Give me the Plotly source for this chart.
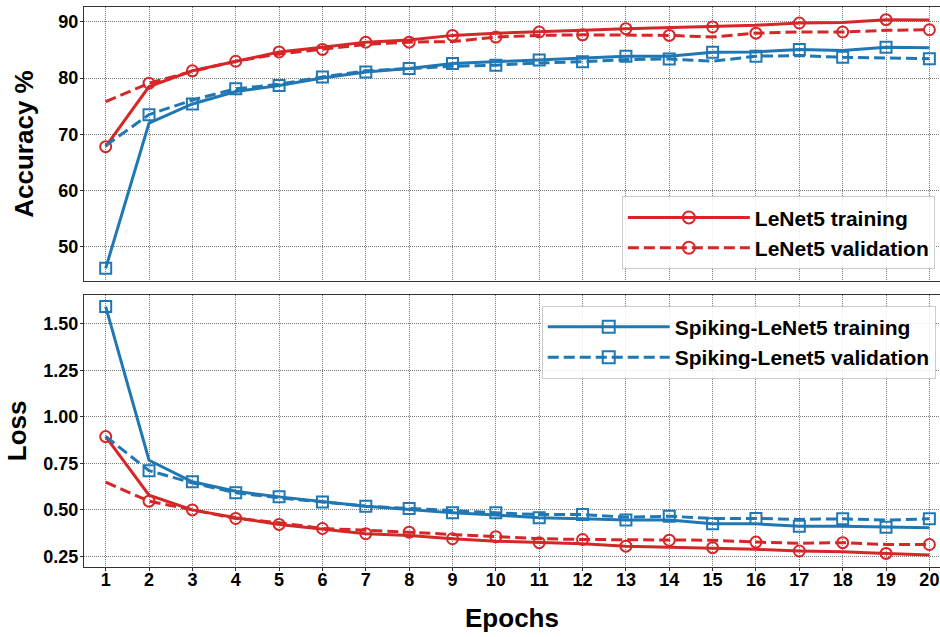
import plotly.graph_objects as go

epochs = list(range(1, 21))

lenet_train_acc = [67.8, 78.5, 81.3, 83.0, 84.65, 85.5, 86.4, 86.8, 87.6, 88.0,
                   88.2, 88.5, 88.8, 89.0, 89.1, 89.4, 89.8, 89.9, 90.4, 90.35]
lenet_val_acc = [75.8, 79.1, 81.2, 83.0, 84.3, 85.1, 86.0, 86.4, 86.5, 87.3,
                 87.6, 87.7, 87.6, 87.6, 87.3, 88.0, 88.2, 88.2, 88.5, 88.6]
spk_train_acc = [46.15, 72.0, 75.4, 77.6, 78.7, 80.0, 81.1, 81.7, 82.6, 82.9,
                 83.2, 83.6, 83.9, 83.9, 84.6, 84.65, 85.1, 84.9, 85.5, 85.4]
spk_val_acc = [68.0, 73.5, 76.1, 78.1, 78.9, 80.2, 81.3, 81.7, 82.1, 82.3,
               82.7, 82.9, 83.3, 83.4, 83.0, 83.9, 84.0, 83.7, 83.6, 83.45]

lenet_train_loss = [0.894, 0.579, 0.500, 0.458, 0.422, 0.398, 0.372, 0.363, 0.345, 0.332,
                    0.324, 0.318, 0.305, 0.300, 0.297, 0.288, 0.279, 0.275, 0.266, 0.257]
lenet_val_loss = [0.649, 0.547, 0.500, 0.454, 0.431, 0.400, 0.391, 0.380, 0.368, 0.356,
                  0.345, 0.341, 0.341, 0.337, 0.337, 0.327, 0.320, 0.324, 0.314, 0.314]
spk_train_loss = [1.593, 0.767, 0.651, 0.600, 0.570, 0.543, 0.520, 0.502, 0.484, 0.472,
                  0.458, 0.452, 0.445, 0.445, 0.425, 0.425, 0.412, 0.412, 0.407, 0.404]
spk_val_loss = [0.895, 0.711, 0.645, 0.592, 0.565, 0.543, 0.520, 0.508, 0.495, 0.484,
                0.475, 0.475, 0.461, 0.466, 0.454, 0.454, 0.449, 0.452, 0.445, 0.452]

acc_ticks = [50, 60, 70, 80, 90]
loss_ticks = [0.25, 0.50, 0.75, 1.00, 1.25, 1.50]

RED = "#d62728"
BLUE = "#1f77b4"
FONT = "Liberation Sans, Arial, sans-serif"
LW = 3
MS = 11
DASH = "11px,5px"

series = [
    ("LeNet5 training", RED, "solid", "circle-open", lenet_train_acc, lenet_train_loss, 0, "legend"),
    ("LeNet5 validation", RED, DASH, "circle-open", lenet_val_acc, lenet_val_loss, 1, "legend"),
    ("Spiking-LeNet5 training", BLUE, "solid", "square-open", spk_train_acc, spk_train_loss, 0, "legend2"),
    ("Spiking-Lenet5 validation", BLUE, DASH, "square-open", spk_val_acc, spk_val_loss, 1, "legend2"),
]

fig = go.Figure()
for name, color, dash, symbol, acc, loss, off, leg in series:
    for vals, xa, ya in ((acc, "x", "y"), (loss, "x2", "y2")):
        fig.add_trace(go.Scatter(
            x=epochs, y=vals, xaxis=xa, yaxis=ya, mode="lines",
            line=dict(color=color, width=LW, dash=dash),
            showlegend=False, hoverinfo="skip"))
        fig.add_trace(go.Scatter(
            x=epochs[off::2], y=vals[off::2], xaxis=xa, yaxis=ya, mode="markers",
            marker=dict(symbol=symbol, size=MS, color=color, line=dict(width=2, color=color)),
            showlegend=False, hoverinfo="skip"))
    fig.add_trace(go.Scatter(
        x=[None], y=[None], mode="lines+markers", name=name, legend=leg,
        line=dict(color=color, width=LW, dash=dash),
        marker=dict(symbol=symbol, size=MS + 1, color=color, line=dict(width=2, color=color))))

TITLE_FONT = dict(family=FONT, size=26, color="black", weight="bold")
axis_common = dict(
    automargin=False,
    showline=True, linecolor="#333333", linewidth=1.2,
    showgrid=True, gridcolor="#7a7a7a", griddash="1px,1px", gridwidth=1,
    zeroline=False,
    tickfont=dict(family=FONT, size=18, color="black", weight="bold"),
    ticks="outside", ticklen=3, tickwidth=1, tickcolor="#333333",
    ticklabeloverflow="allow",
)
LEG_FONT = dict(family=FONT, size=21, color="black", weight="bold")

fig.update_layout(
    width=940, height=637,
    margin=dict(l=84, r=0, t=7, b=70, autoexpand=False),
    paper_bgcolor="white", plot_bgcolor="white",
    font=dict(family=FONT, color="black"),
    xaxis=dict(axis_common, range=[0.5, 20.245], tickvals=epochs, showticklabels=False,
               ticks="", anchor="y", mirror=True),
    xaxis2=dict(axis_common, range=[0.5, 20.245], tickvals=epochs, matches="x",
                anchor="y2", mirror=True, ticklabelstandoff=-7,
                title=dict(text="Epochs", font=TITLE_FONT, standoff=20)),
    yaxis=dict(axis_common, domain=[0.5107, 1.0], range=[43.9, 92.65], tickvals=acc_ticks,
               anchor="x", ticklabelstandoff=-2,
               title=dict(text="Accuracy %", font=TITLE_FONT, standoff=17)),
    yaxis2=dict(axis_common, domain=[0.0, 0.4863], range=[0.193, 1.657], tickvals=loss_ticks,
                tickformat=".2f", anchor="x2", ticklabelstandoff=-2,
                title=dict(text="Loss", font=TITLE_FONT, standoff=9)),
    legend=dict(x=0.994, y=0.5316, xanchor="right", yanchor="bottom",
                bgcolor="rgba(255,255,255,0.85)", bordercolor="#cccccc", borderwidth=1,
                font=LEG_FONT, itemwidth=122, tracegroupgap=0),
    legend2=dict(x=0.995, y=0.4666, xanchor="right", yanchor="top",
                 bgcolor="rgba(255,255,255,0.85)", bordercolor="#cccccc", borderwidth=1,
                 font=LEG_FONT, itemwidth=122, tracegroupgap=0),
)

# remove the browser's default 8px page margin so the 940x637 figure fills the window
fig.write_html("out.html",
               config={"displayModeBar": False},
               post_script="document.body.style.margin='0';document.body.style.overflow='hidden';")
